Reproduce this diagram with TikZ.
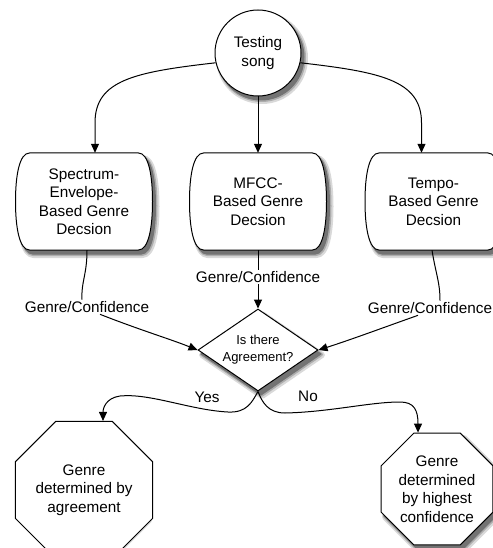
\documentclass[tikz,border=0pt]{standalone}
\usepackage{fontspec}
\setmainfont{Liberation Sans}
\usetikzlibrary{shapes.geometric, arrows.meta}

\definecolor{shadowA}{gray}{0.85}
\definecolor{shadowB}{gray}{0.68}
\definecolor{shadowC}{gray}{0.45}

\tikzset{
 ln/.style={line width=1pt, draw=black},
 arr/.style={ln, -{Triangle[length=9pt,width=8pt]}},
 txt/.style={font=\fontsize{15.3}{18.5}\selectfont, align=center},
 startc/.style={circle, ln, fill=white, minimum size=86pt, inner sep=0pt, txt},
 boxn/.style={minimum width=137pt, minimum height=97pt, inner sep=0pt},
 dec/.style={diamond, ln, fill=white, minimum width=120pt, minimum height=82pt, inner sep=0pt, aspect=1.46},
 oct/.style={regular polygon, regular polygon sides=8, ln, fill=white, inner sep=0pt, txt},
 lab/.style={txt, inner sep=1.5pt},
 shA/.style={fill=shadowA, draw=shadowA, line width=6pt, line join=round},
 shB/.style={fill=shadowB, draw=shadowB, line width=3pt, line join=round},
 shC/.style={fill=shadowC, draw=shadowC, line width=1pt, line join=round},
}

% bulging box outline around centre (#1,#2)
\newcommand{\bulgepath}[2]{({#1-54.5},{#2-48.5}) -- ({#1+54.5},{#2-48.5})
  .. controls ({#1+64.5},{#2-48.5}) and ({#1+68.5},{#2-26.5}) .. ({#1+68.5},{#2})
  .. controls ({#1+68.5},{#2+26.5}) and ({#1+64.5},{#2+48.5}) .. ({#1+54.5},{#2+48.5})
  -- ({#1-54.5},{#2+48.5})
  .. controls ({#1-64.5},{#2+48.5}) and ({#1-68.5},{#2+26.5}) .. ({#1-68.5},{#2})
  .. controls ({#1-68.5},{#2-26.5}) and ({#1-64.5},{#2-48.5}) .. cycle}
% octagon around centre (#1,#2), circumradius #3
\newcommand{\octpath}[3]{({#1},{#2}) +(22.5:#3) -- +(67.5:#3) -- +(112.5:#3) -- +(157.5:#3)
  -- +(202.5:#3) -- +(247.5:#3) -- +(292.5:#3) -- +(337.5:#3) -- cycle}
\newcommand{\allshadows}[1]{%
  \path[#1] (258,53) circle (43);
  \path[#1] \bulgepath{84}{201.5};
  \path[#1] \bulgepath{258}{201.5};
  \path[#1] \bulgepath{433.5}{201.5};
  \path[#1] (198,350) -- (258,309) -- (318,350) -- (258,391) -- cycle;
  \path[#1] \octpath{84}{490}{66};
  \path[#1] \octpath{437}{489}{60.5};}

\begin{document}
\begin{tikzpicture}[x=1pt,y=-1pt]
\useasboundingbox (0,0) rectangle (492,548);

% soft drop shadows
\begin{scope}[shift={(4,5)}]\allshadows{shA}\end{scope}
\begin{scope}[shift={(3.5,4.5)}]\allshadows{shB}\end{scope}
\begin{scope}[shift={(3,4)}]\allshadows{shC}\end{scope}

\node[startc] (song) at (258,53) {Testing\\song};

\draw[ln, fill=white] \bulgepath{84}{201.5};
\draw[ln, fill=white] \bulgepath{258}{201.5};
\draw[ln, fill=white] \bulgepath{433.5}{201.5};
\node[boxn, txt] (bL) at (84,201.5) {Spectrum-\\Envelope-\\Based Genre\\Decsion};
\node[boxn, txt] (bM) at (258,201.5) {MFCC-\\Based Genre\\Decsion};
\node[boxn, txt] (bR) at (433.5,201.5) {Tempo-\\Based Genre\\Decsion};

\node[dec] (dec) at (258,350) {};
\node[txt, font=\fontsize{13}{17}\selectfont] (dect) at (dec) {Is there\\Agreement?};

\node[oct, minimum size=132pt] (oL) at (84,490) {Genre\\determined by\\agreement};
\node[oct, minimum size=121pt] (oR) at (437,489) {Genre\\determined\\by highest\\confidence};

\node[lab] (gL) at (87,307) {Genre/Confidence};
\node[lab] (gM) at (258,277) {Genre/Confidence};
\node[lab] (gR) at (430,308) {Genre/Confidence};
\node[lab] (yes) at (207,397) {Yes};
\node[lab] (no) at (308,396) {No};

\draw[arr] (song.193) .. controls (135,72) and (95,80) .. ([xshift=11pt,yshift=30pt]bL.north) -- ([xshift=11pt]bL.north);
\draw[arr] (song.south) -- (bM.north);
\draw[arr] (song.-13) .. controls (380,72) and (421.5,80) .. ([xshift=-12pt,yshift=30pt]bR.north) -- ([xshift=-12pt]bR.north);

\draw[ln] ([xshift=3pt]bL.south) .. controls (87,275) and (81,282) .. ([xshift=-5pt]gL.north);
\draw[arr] ([xshift=13pt]gL.south) .. controls (140,330) and (170,339) .. (dec.west);
\draw[ln] (bM.south) -- (gM.north);
\draw[arr] (gM.south) -- (dec.north);
\draw[ln] ([xshift=-1.5pt]bR.south) .. controls (436,275) and (440,282) .. ([xshift=10pt]gR.north);
\draw[arr] ([xshift=-12pt]gR.south) .. controls (385,327) and (350,340) .. (dec.east);

\draw[arr] (dec.south) .. controls (252,402) and (247,413) .. (228,412)
  .. controls (190,410) and (150,393) .. (120,396)
  .. controls (106,398) and (103,408) .. ([xshift=19pt]oL.north);
\draw[arr] (dec.south) .. controls (262,402) and (268,413) .. (285,413)
  .. controls (330,412) and (370,402) .. (400,402)
  .. controls (414,402) and (418,410) .. ([xshift=-19pt]oR.north);
\end{tikzpicture}
\end{document}
